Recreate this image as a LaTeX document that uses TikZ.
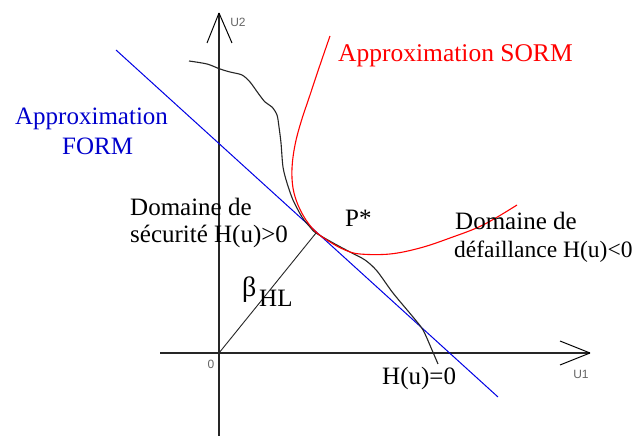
\documentclass[tikz,border=0pt]{standalone}
\usepackage{fontspec}
\setmainfont{Liberation Serif}
\newfontfamily\axisfont{Liberation Sans}
\begin{document}
\begin{tikzpicture}[x=1pt,y=-1pt,
  axis/.style={line width=1.4pt,black!85},
  curve/.style={line width=1.1pt},
  lbl/.style={anchor=base west,inner sep=0pt,font=\fontsize{25}{29}\selectfont},
  axlbl/.style={inner sep=0pt,text=black!60,font=\axisfont\fontsize{12}{14}\selectfont}]
\useasboundingbox[fill=white] (0,0) rectangle (641,438);
% axes
\coordinate (O) at (219,353);
\coordinate (ybot) at (219,436);
\coordinate (ytip) at (219,13);
\coordinate (xleft) at (160,353);
\coordinate (xtip) at (590,353);
\draw[axis] (ybot) -- (ytip);
\draw[axis] (xleft) -- (xtip);
\draw[line width=1pt] (ytip) -- ++(-12,30) (ytip) -- ++(13,30);
\draw[line width=1pt] (xtip) -- ++(-30,-12) (xtip) -- ++(-30,12);
\node[axlbl] (u2) at (238,22) {U2};
\node[axlbl] (u1) at (581,374) {U1};
\node[axlbl] (zero) at (211,364) {0};
% FORM line
\coordinate (b1) at (116,50);
\coordinate (b2) at (498,397);
\draw[curve,blue!90!black,line width=1pt] (b1) -- (b2);
% design point
\coordinate (P) at (316,233);
% limit state H(u)=0
\draw[curve,black!85] plot[smooth,tension=0.5] coordinates {
 (189,61) (207,64) (220,69) (230,72) (242,75) (250,82) (258,93) (265,102)
 (272,107) (277,115) (279,127) (281,143) (283,167) (287,183) (293,200)
 (302,217) (310,227) (316,233) (335,244) (350,252) (365,260) (377,271)
 (393,293) (413,317) (423,330) (432,350) (438,364)};
% SORM
\draw[curve,red] plot[smooth,tension=0.6] coordinates {
 (330,36) (320,65) (310,95) (301,122) (295,145) (292,168) (293,188)
 (298,205) (306,220) (316,232) (330,242) (345,250) (360,254) (390,254)
 (420,248) (450,238) (483,225) (517,205)};
% beta line
\draw[line width=0.9pt,black!85] (O) -- (P);
% labels
\node[lbl,text=red,font=\fontsize{25.5}{29}\selectfont] (sorm) at (338,62) {Approximation SORM};
\node[lbl,text=blue!80!black] (form1) at (15,125) {Approximation};
\node[lbl,text=blue!80!black] (form2) at (62,155) {FORM};
\node[lbl] (secu1) at (130,216) {Domaine de};
\node[lbl] (secu2) at (130,243) {sécurité H(u)>0};
\node[lbl] (def1) at (455,230) {Domaine de};
\node[lbl,font=\fontsize{23.5}{28}\selectfont] (def2) at (454,258) {défaillance H(u)<0};
\node[lbl] (pstar) at (345,227) {P*};
\node[lbl] (h0) at (382,385) {H(u)=0};
\node[lbl,font=\fontsize{28}{30}\selectfont] (beta) at (242,297) {β};
\node[lbl] (hl) at (259,307) {HL};
\end{tikzpicture}
\end{document}
